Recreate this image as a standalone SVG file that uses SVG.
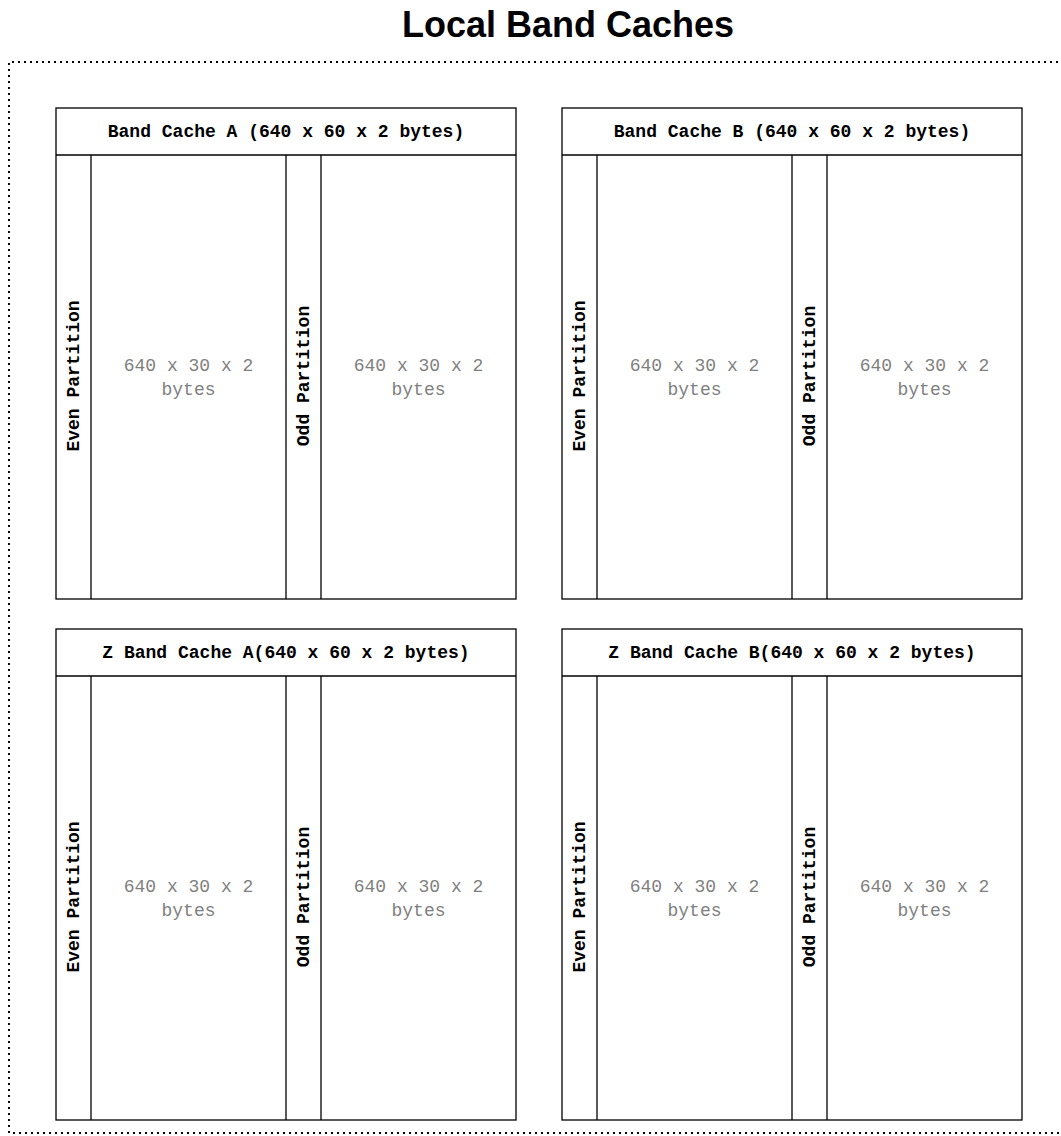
<svg xmlns="http://www.w3.org/2000/svg" width="1061" height="1136" viewBox="0 0 1061 1136">
<style>
.frame{fill:none;stroke:#000;stroke-width:2;stroke-dasharray:2 4}
.box{fill:#fff;stroke:#000;stroke-width:1.3}
.ln{stroke:#000;stroke-width:1.3}
.hdr{font-family:"Liberation Mono","Courier New",monospace;font-weight:bold;font-size:18px;text-anchor:middle;fill:#000}
.vl{font-family:"Liberation Mono","Courier New",monospace;font-weight:bold;font-size:18px;text-anchor:middle;fill:#000}
.dt{font-family:"Liberation Mono","Courier New",monospace;font-size:18px;text-anchor:middle;fill:#808080}
.title{font-family:"Liberation Sans",Arial,sans-serif;font-weight:bold;font-size:36px;text-anchor:middle;fill:#000}
</style>
<rect x="0" y="0" width="1061" height="1136" fill="#fff"/>
<text class="title" x="568" y="37">Local Band Caches</text>
<path class="frame" d="M1070,62 H9 V1133 H1070"/>
<defs>
<g id="cache">
<rect class="box" x="0" y="0" width="460" height="491"/>
<line class="ln" x1="0" y1="47" x2="460" y2="47"/>
<line class="ln" x1="35" y1="47" x2="35" y2="491"/>
<line class="ln" x1="230" y1="47" x2="230" y2="491"/>
<line class="ln" x1="265" y1="47" x2="265" y2="491"/>
<text class="vl" transform="translate(23,268) rotate(-90)">Even Partition</text>
<text class="vl" transform="translate(253,268) rotate(-90)">Odd Partition</text>
<text class="dt" x="132.5" y="263">640 x 30 x 2</text>
<text class="dt" x="132.5" y="287">bytes</text>
<text class="dt" x="362.5" y="263">640 x 30 x 2</text>
<text class="dt" x="362.5" y="287">bytes</text>
</g>
</defs>
<g id="band-cache-a">
<use href="#cache" x="56" y="108"/>
<text class="hdr" x="286" y="137">Band Cache A (640 x 60 x 2 bytes)</text>
</g>
<g id="band-cache-b">
<use href="#cache" x="562" y="108"/>
<text class="hdr" x="792" y="137">Band Cache B (640 x 60 x 2 bytes)</text>
</g>
<g id="z-band-cache-a">
<use href="#cache" x="56" y="629"/>
<text class="hdr" x="286" y="658">Z Band Cache A(640 x 60 x 2 bytes)</text>
</g>
<g id="z-band-cache-b">
<use href="#cache" x="562" y="629"/>
<text class="hdr" x="792" y="658">Z Band Cache B(640 x 60 x 2 bytes)</text>
</g>
<g id="connectors"/>
</svg>
